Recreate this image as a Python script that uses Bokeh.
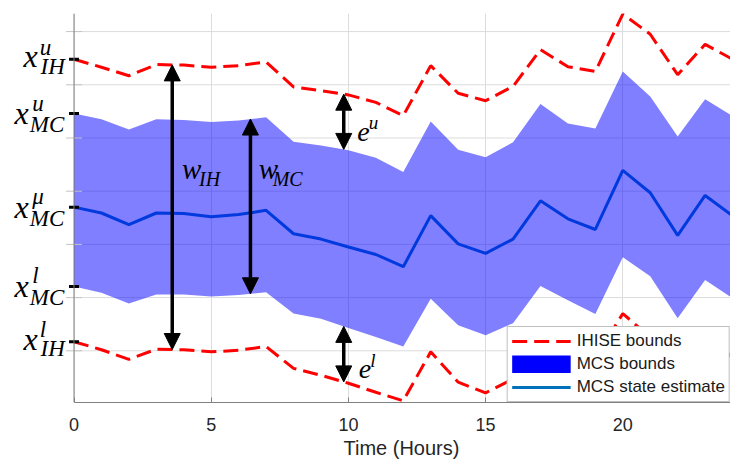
import numpy as np
from bokeh.plotting import figure
from bokeh.models import (FixedTicker, Label, Arrow, NormalHead, Legend, LegendItem,
                          Range1d, Span, Title)
from bokeh.embed import file_html
from bokeh.resources import INLINE

# ---------------- data ----------------
hours = list(range(25))
ihise_upper = [6.48, 6.33, 6.17, 6.38, 6.37, 6.33, 6.36, 6.43, 5.96, 5.89, 5.81, 5.67, 5.42,
               6.36, 5.84, 5.70, 5.97, 6.66, 6.34, 6.25, 7.33, 6.95, 6.19, 6.76, 6.48]
mcs_upper = [5.46, 5.35, 5.16, 5.35, 5.34, 5.30, 5.33, 5.39, 4.93, 4.86, 4.77, 4.63, 4.36,
             5.31, 4.78, 4.64, 4.92, 5.64, 5.27, 5.18, 6.25, 5.78, 5.03, 5.73, 5.41]
mcs_mean = [3.70, 3.59, 3.37, 3.59, 3.58, 3.52, 3.56, 3.64, 3.20, 3.10, 2.95, 2.81, 2.58,
            3.54, 3.01, 2.83, 3.10, 3.82, 3.48, 3.28, 4.39, 3.97, 3.17, 3.92, 3.54]
mcs_lower = [2.21, 2.09, 1.89, 2.06, 2.06, 2.02, 2.05, 2.10, 1.70, 1.60, 1.43, 1.26, 1.08,
             1.98, 1.48, 1.29, 1.52, 2.22, 1.95, 1.69, 2.76, 2.40, 1.61, 2.33, 1.99]
ihise_lower = [1.17, 1.02, 0.84, 1.03, 1.02, 0.98, 1.01, 1.08, 0.67, 0.54, 0.39, 0.22, 0.06,
               0.98, 0.41, 0.21, 0.47, 1.23, 0.87, 0.86, 1.70, 1.25, 0.42, 1.34, 0.87]

x_ticks = [0, 5, 10, 15, 20]
y_grid = [1, 2, 3, 4, 5, 6, 7]
legend_labels = ["IHISE bounds", "MCS bounds", "MCS state estimate"]
x_title = "Time (Hours)"

# y tick labels: (value, base, superscript, subscript)
y_labels = [
    (ihise_upper[0], "x", "u", "IH"),
    (mcs_upper[0], "x", "u", "MC"),
    (mcs_mean[0], "x", "μ", "MC"),
    (mcs_lower[0], "x", "l", "MC"),
    (ihise_lower[0], "x", "l", "IH"),
]

# ---------------- figure ----------------
X0, X1 = -2.679, 23.925       # frame includes the label area left of x = 0
Y0, Y1 = 0.028, 7.340
p = figure(frame_width=730, frame_height=389,
           x_range=Range1d(X0, X1), y_range=Range1d(Y0, Y1),
           output_backend="svg", toolbar_location=None,
           min_border_left=0, min_border_right=0, min_border_top=13, min_border_bottom=0)
p.outline_line_color = None
p.background_fill_color = "white"

AX = "#808080"
TXT = "#262626"
GRID = "#dcdcdc"
SANS = "Liberation Sans"
SERIF = "Liberation Serif"

# vertical grid (standard), horizontal grid drawn only over the data area
p.xgrid.ticker = FixedTicker(ticks=x_ticks)
p.xgrid.grid_line_color = GRID
p.ygrid.visible = False
p.segment(x0=[0] * len(y_grid), y0=y_grid, x1=[X1] * len(y_grid), y1=y_grid,
          line_color=GRID, line_width=1)

# x axis
p.xaxis.ticker = FixedTicker(ticks=x_ticks)
p.xaxis.bounds = (0, X1)
p.xaxis.axis_line_color = AX
p.xaxis.major_tick_in = 5
p.xaxis.major_tick_out = 0
p.xaxis.major_tick_line_color = AX
p.xaxis.minor_tick_line_color = None
p.xaxis.major_label_text_font = SANS
p.xaxis.major_label_text_font_size = "18px"
p.xaxis.major_label_text_color = TXT
p.xaxis.major_label_standoff = 15

# x-axis title, centred under the data area (x >= 0)
p.add_layout(Title(text=x_title, align="left", offset=343, standoff=3,
                   text_font=SANS, text_font_size="20px", text_font_style="normal",
                   text_color=TXT), "below")

# y axis drawn at x = 0
p.yaxis.visible = False
p.add_layout(Span(location=0, dimension="height", line_color=AX, line_width=1))

# ---------------- glyphs ----------------
r_mean = p.line(hours, mcs_mean, line_color="#0072BD", line_width=3)
p.varea(x=hours, y1=mcs_lower, y2=mcs_upper, fill_color="#0000ff", fill_alpha=0.5)
r_up = p.line(hours, ihise_upper, line_color="#ff0000", line_width=3, line_dash="15 7")
p.line(hours, ihise_lower, line_color="#ff0000", line_width=3, line_dash="15 7")
# legend swatch for the MCS band (solid blue block, nothing drawn in the plot)
r_patch = p.line(x=hours[:1], y=[float("nan")], line_color="#0000ff", line_width=18)

# y tick marks
p.scatter(x=[0] * len(y_grid), y=y_grid, marker="dash", size=16,
          line_color="#c4c4c4", line_width=1)
p.scatter(x=[0] * len(y_labels), y=[v for v, *_ in y_labels], marker="dash", size=10,
          line_color="black", line_width=3)

# ---------------- arrows ----------------
def arrow_between(xpos, lo, hi):
    y0 = float(np.interp(xpos, hours, lo))
    y1 = float(np.interp(xpos, hours, hi))
    p.add_layout(Arrow(
        start=NormalHead(size=16, fill_color="black", line_color="black"),
        end=NormalHead(size=16, fill_color="black", line_color="black"),
        x_start=xpos, y_start=y0, x_end=xpos, y_end=y1,
        line_color="black", line_width=3.5))

arrow_between(3.58, ihise_lower, ihise_upper)
arrow_between(6.43, mcs_lower, mcs_upper)
arrow_between(9.83, mcs_upper, ihise_upper)
arrow_between(9.83, ihise_lower, mcs_lower)

def lab(x, y, text, size, dx=0, dy=0):
    p.add_layout(Label(x=x, y=y, text=text, x_offset=dx, y_offset=dy,
                       text_font=SERIF, text_font_style="italic",
                       text_font_size=f"{size}px", text_color="black",
                       text_baseline="alphabetic", text_align="left"))

# in-plot annotations
lab(3.94, 4.417, "w", 29)
lab(3.94, 4.417, "IH", 20, dx=17.0, dy=-9.8)
lab(6.73, 4.42, "w", 29)
lab(6.73, 4.42, "MC", 20, dx=14.0, dy=-9.7)
lab(10.32, 5.11, "e", 28)
lab(10.32, 5.11, "u", 19, dx=11.6, dy=9.8)
lab(10.38, 0.66, "e", 28)
lab(10.38, 0.66, "l", 19, dx=11.4, dy=8.3)

# y tick labels built from text pieces
for v, base, sup, sub in y_labels:
    if sub == "IH":
        bdx, supdx, subdx = -50.5, -34.2, -33.5
        bdy, supdy, subdy = 3, 12, -7
    else:
        bdx, supdx, subdx = -59.5, -41.8, -44.2
        bdy, supdy, subdy = 0.5, 10.5, -11
    lab(0, v, base, 32, dx=bdx, dy=bdy)
    lab(0, v, sup, 23, dx=supdx, dy=supdy)
    lab(0, v, sub, 23, dx=subdx, dy=subdy)

# ---------------- legend ----------------
legend = Legend(items=[
    LegendItem(label=legend_labels[0], renderers=[r_up]),
    LegendItem(label=legend_labels[1], renderers=[r_patch]),
    LegendItem(label=legend_labels[2], renderers=[r_mean]),
], location="bottom_right", margin=0, padding=4, spacing=3,
    glyph_width=59, glyph_height=18, label_height=18, label_standoff=6,
    label_text_font=SANS, label_text_font_size="17px", label_text_color="#1a1a1a",
    border_line_color="#808080", background_fill_color="white", background_fill_alpha=1)
p.add_layout(legend)

open("out.html", "w").write(file_html(p, INLINE))
